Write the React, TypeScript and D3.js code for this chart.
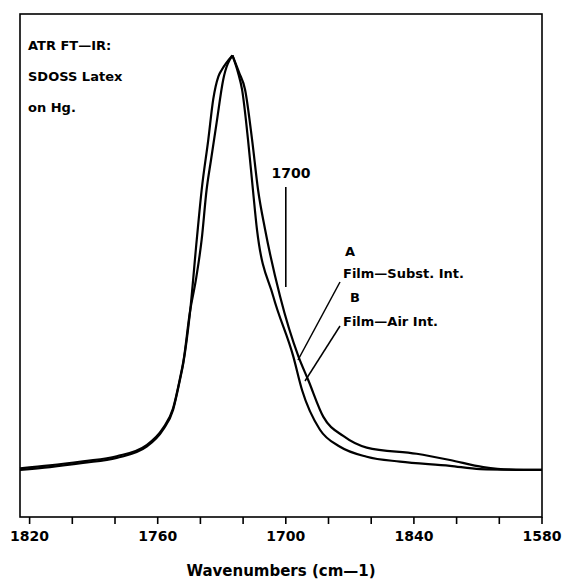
import React from "react";
import * as d3 from "d3";

// Curve A (Film-Subst. Int.) — wavenumber / absorbance
const waveA = [1824.5, 1810.5, 1795.0, 1779.2, 1765.2, 1757.5, 1752.8, 1749.6, 1748.0, 1744.9, 1742.1, 1739.4, 1737.1, 1735.0, 1732.4, 1729.3, 1725.0, 1721.9, 1719.1, 1715.8, 1713.0, 1709.7, 1702.7, 1694.1, 1689.5, 1682.4, 1673.1, 1662.1, 1638.7, 1623.1, 1607.5, 1595.0, 1580];
const absA = [0.004, 0.011, 0.021, 0.033, 0.060, 0.101, 0.149, 0.220, 0.261, 0.381, 0.459, 0.556, 0.676, 0.749, 0.838, 0.942, 1.0, 0.959, 0.918, 0.797, 0.676, 0.580, 0.419, 0.274, 0.217, 0.128, 0.082, 0.054, 0.039, 0.024, 0.007, 0.001, 0.0];

// Curve B (Film-Air Int.)
const waveB = [1824.5, 1810.5, 1795.0, 1779.2, 1765.2, 1757.5, 1752.8, 1749.6, 1748.0, 1744.9, 1741.7, 1739.4, 1736.3, 1734.0, 1731.6, 1729.9, 1725.0, 1722.4, 1720.5, 1717.7, 1715.4, 1713.5, 1705.9, 1696.5, 1692.4, 1684.0, 1674.6, 1662.1, 1646.5, 1623.1, 1609.0, 1580];
const absB = [0.0, 0.007, 0.017, 0.029, 0.056, 0.097, 0.145, 0.217, 0.258, 0.379, 0.556, 0.676, 0.797, 0.894, 0.949, 0.966, 1.0, 0.959, 0.918, 0.797, 0.676, 0.580, 0.419, 0.274, 0.193, 0.097, 0.056, 0.032, 0.020, 0.010, 0.002, 0.0];

const tickValues = [1820, 1800, 1780, 1760, 1740, 1720, 1700, 1680, 1660, 1640, 1620, 1600, 1580];
const labelValues = [1820, 1760, 1700, 1640, 1580];
const labelTexts = ["1820", "1760", "1700", "1840", "1580"];
const infoLines = ["ATR FT—IR:", "SDOSS Latex", "on Hg."];

const W = 566, H = 582;
const left = 20, right = 542, top = 14, bottom = 517;
const FONT = "'DejaVu Sans', sans-serif";

export default function App() {
  const x = d3.scaleLinear().domain([1824.5, 1580]).range([left, right]);
  const y = d3.scaleLinear().domain([-0.1135, 1.1]).range([bottom, top]);
  const line = d3.line<[number, number]>().x(d => x(d[0])).y(d => y(d[1])).curve(d3.curveMonotoneX);
  const halves = (w: number[], a: number[]) => {
    const pts: [number, number][] = w.map((v, i) => [v, a[i]]);
    const k = a.indexOf(d3.max(a) as number);
    return [pts.slice(0, k + 1), pts.slice(k)];
  };
  const [aL, aR] = halves(waveA, absA);
  const [bL, bR] = halves(waveB, absB);
  const m1700 = x(1700);
  const curveStyle = { fill: "none", stroke: "#000", strokeWidth: 2.2, strokeLinejoin: "miter" as const };
  return (
    <svg width={W} height={H} style={{ position: "absolute", left: 0, top: 0, background: "#fff" }}>
      <rect x={left} y={top} width={right - left} height={bottom - top} fill="none" stroke="#000" strokeWidth={1.6} />
      {tickValues.map(t => (
        <line key={t} x1={x(t)} x2={x(t)} y1={bottom} y2={bottom + 7} stroke="#000" strokeWidth={1.6} />
      ))}
      {labelValues.map((t, i) => (
        <text key={t} x={x(t)} y={541} textAnchor="middle" fontFamily={FONT} fontWeight="bold" fontSize={14}>{labelTexts[i]}</text>
      ))}
      <text x={(left + right) / 2} y={576} textAnchor="middle" fontFamily={FONT} fontWeight="bold" fontSize={15}>Wavenumbers (cm—1)</text>
      <path d={line(aL) || ""} {...curveStyle} />
      <path d={line(aR) || ""} {...curveStyle} />
      <path d={line(bL) || ""} {...curveStyle} />
      <path d={line(bR) || ""} {...curveStyle} />
      {infoLines.map((s, i) => (
        <text key={s} x={28} y={50 + i * 31} fontFamily={FONT} fontWeight="bold" fontSize={13}>{s}</text>
      ))}
      <text x={291} y={178} textAnchor="middle" fontFamily={FONT} fontWeight="bold" fontSize={14}>1700</text>
      <line x1={m1700} x2={m1700} y1={187} y2={287} stroke="#000" strokeWidth={1.6} />
      <text x={345} y={256} fontFamily={FONT} fontWeight="bold" fontSize={13}>A</text>
      <text x={343} y={278} fontFamily={FONT} fontWeight="bold" fontSize={13}>Film—Subst. Int.</text>
      <text x={350} y={302} fontFamily={FONT} fontWeight="bold" fontSize={13}>B</text>
      <text x={343} y={326} fontFamily={FONT} fontWeight="bold" fontSize={13}>Film—Air Int.</text>
      <line x1={340} y1={282} x2={298} y2={360} stroke="#000" strokeWidth={1.5} />
      <line x1={340} y1={326} x2={305} y2={381} stroke="#000" strokeWidth={1.5} />
    </svg>
  );
}
